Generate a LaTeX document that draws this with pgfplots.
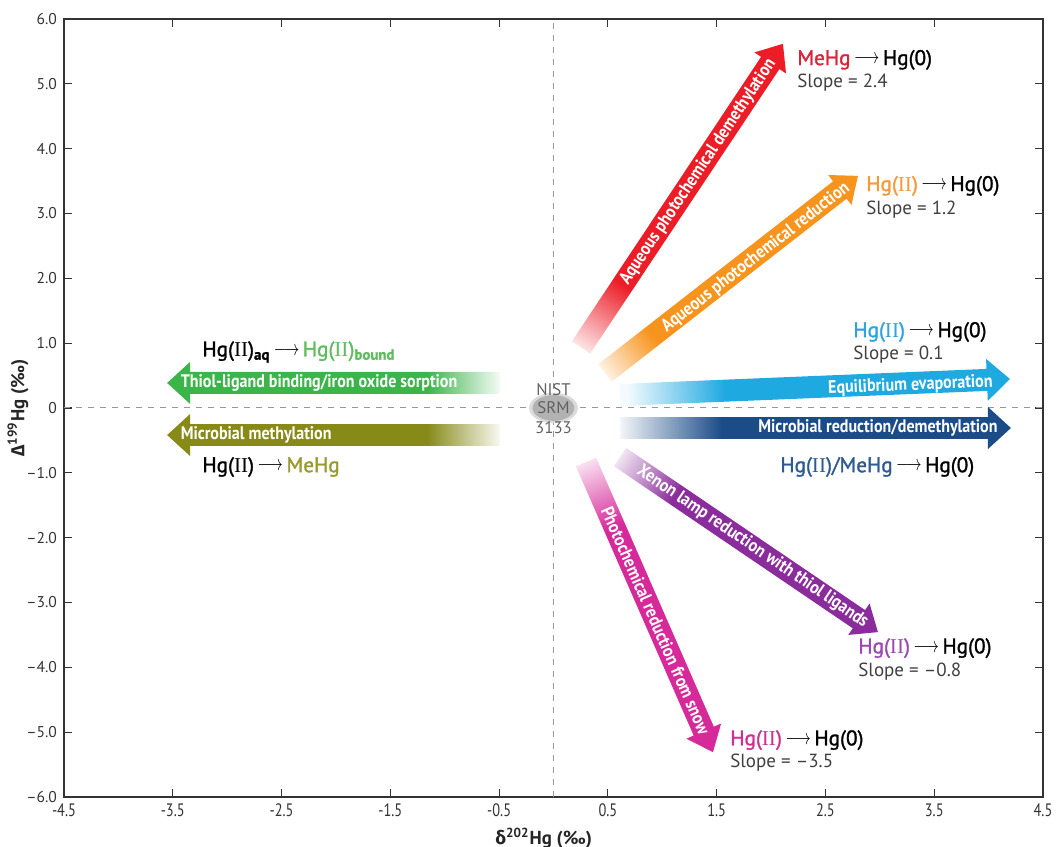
\documentclass[border=0pt]{standalone}
\usepackage{fontspec}
\setmainfont{PT Sans}
\newfontfamily\greekf{Fira Sans}
\newfontfamily\cond[FakeStretch=0.88]{PT Sans}
\newfontfamily\condx[FakeStretch=0.8]{PT Sans}
\newfontfamily\semib[FakeBold=1.4]{PT Sans}
\newfontfamily\serifII{Liberation Serif}
\usepackage{pgfplots}
\pgfplotsset{compat=1.18}

\definecolor{cRed}{HTML}{EC1D27}
\definecolor{cOrange}{HTML}{F7941D}
\definecolor{cBlue}{HTML}{1FA9E1}
\definecolor{cNavy}{HTML}{1C4C88}
\definecolor{cPurple}{HTML}{8A2C9B}
\definecolor{cMagenta}{HTML}{D6299A}
\definecolor{cGreen}{HTML}{3BB44A}
\definecolor{cOlive}{HTML}{878A17}
\definecolor{tRed}{HTML}{D9243A}
\definecolor{tOrange}{HTML}{F39A3A}
\definecolor{tBlue}{HTML}{2EA3DC}
\definecolor{tNavy}{HTML}{2D5B92}
\definecolor{tPurple}{HTML}{9A4BB0}
\definecolor{tMagenta}{HTML}{D02F8E}
\definecolor{tGreen}{HTML}{5CBD5C}
\definecolor{tOlive}{HTML}{979A2C}

\newcommand\mkfade[4]{%
  \colorlet{#1P}{#2!5!white}%
  \pgfdeclareverticalshading{#1}{100bp}{color(0bp)=(#1P); color(#3bp)=(#1P); color(#4bp)=(#2); color(100bp)=(#2)}}
\mkfade{fRed}{cRed}{16}{31}
\mkfade{fOrange}{cOrange}{16}{30}
\mkfade{fPurple}{cPurple}{16}{32}
\mkfade{fMagenta}{cMagenta}{17}{33}
\mkfade{fBlue}{cBlue}{25}{38}
\mkfade{fNavy}{cNavy}{25}{38}
\mkfade{fGreen}{cGreen}{25}{36}
\mkfade{fOlive}{cOlive}{25}{36}

\newcommand\HgII{Hg({\serifII II})}
\newcommand\rarr{\,\raisebox{0.12ex}{\scalebox{0.72}[1]{$\longrightarrow$}}\,}

\tikzset{
  hg/.style={anchor=west, inner sep=0pt, font=\semib\fontsize{10.6}{11}\selectfont},
  sl/.style={anchor=west, inner sep=0pt, font=\fontsize{9.5}{10}\selectfont, text=black!75},
  al/.style={text=white, inner sep=0pt, font=\cond\bfseries\fontsize{9.1}{10}\selectfont},
  nist/.style={inner sep=0pt, text=black!62, font=\fontsize{8.4}{9}\selectfont},
}

\begin{document}
\begin{tikzpicture}
\begin{axis}[name=ax, set layers, scale only axis, width=489.5pt, height=389pt,
  xmin=-4.5, xmax=4.5, ymin=-6, ymax=6,
  xtick={-4.5,-3.5,-2.5,-1.5,-0.5,0.5,1.5,2.5,3.5,4.5},
  xticklabels={-4.5,-3.5,-2.5,-1.5,-0.5,0.5,1.5,2.5,3.5,4.5},
  ytick={-6,-5,-4,-3,-2,-1,0,1,2,3,4,5,6},
  yticklabels={–6.0,–5.0,–4.0,–3.0,–2.0,–1.0,0,1.0,2.0,3.0,4.0,5.0,6.0},
  yticklabel style={font=\fontsize{7.8}{8}\selectfont, text=black!80},
  xticklabel style={font=\condx\fontsize{9}{9}\selectfont, text=black!80},
  axis line style={black!80, line width=0.8pt},
  major tick style={black!80, line width=0.6pt},
  major tick length=4pt,
  clip=false,
  xlabel={\textbf{{\greekf δ}\textsuperscript{202}Hg (‰)}},
  ylabel={\textbf{{\greekf Δ}\textsuperscript{199}Hg (‰)}},
  label style={font=\fontsize{9.4}{10}\selectfont, text=black!85},
  xlabel style={at={(axis description cs:0.49,-0.053)}, anchor=center},
  ylabel style={at={(axis description cs:-0.047,0.5)}, anchor=center},
]
% zero lines
\addplot[black!40, dash pattern=on 3pt off 3pt, line width=0.5pt] coordinates {(0,-6) (0,6)};
\addplot[black!40, dash pattern=on 3pt off 3pt, line width=0.5pt] coordinates {(-4.5,0) (4.5,0)};

% NIST SRM 3133 reference point
\addplot[black!14, only marks, mark=*, mark size=7.4pt, mark options={xscale=1.62, fill=black!14, draw=black!14}] coordinates {(0,0)};
\addplot[black!30, only marks, mark=*, mark size=6.2pt, mark options={xscale=1.65, fill=black!30, draw=black!30}] coordinates {(0,0)};

% arrows
\addplot[draw=none, shade, shading=fRed, shading angle=-33.65] coordinates {
 (0.3369,0.8395) (2.0765,5.2276) (2.1377,5.1593) (2.1094,5.6173) (1.8469,5.4843) (1.9081,5.4157) (0.1686,1.0276)} -- cycle;
\addplot[draw=none, shade, shading=fOrange, shading angle=-52.1] coordinates {
 (0.5355,0.4062) (2.6940,3.2282) (2.7392,3.1309) (2.7987,3.5802) (2.5246,3.5935) (2.5698,3.4961) (0.4112,0.6741)} -- cycle;
\addplot[draw=none, shade, shading=fBlue, shading angle=-87.65] coordinates {
 (0.6154,0.0310) (3.9887,0.2634) (3.9924,0.1093) (4.1958,0.4475) (3.9767,0.7568) (3.9804,0.6026) (0.6071,0.3702)} -- cycle;
\addplot[draw=none, shade, shading=fNavy, shading angle=-90] coordinates {
 (0.611,-0.139) (3.994,-0.139) (3.994,0.016) (4.205,-0.309) (3.994,-0.633) (3.994,-0.478) (0.611,-0.478)} -- cycle;
\addplot[draw=none, shade, shading=fPurple, shading angle=-124.15] coordinates {
 (0.5545,-0.8966) (2.7509,-3.3980) (2.7096,-3.5002) (2.9825,-3.4568) (2.9057,-3.0150) (2.8644,-3.1171) (0.6680,-0.6157)} -- cycle;
\addplot[draw=none, shade, shading=fMagenta, shading angle=-156.35] coordinates {
 (0.2061,-0.9014) (1.2885,-5.0515) (1.2212,-5.1011) (1.4660,-5.3086) (1.5411,-4.8659) (1.4738,-4.9154) (0.3914,-0.7653)} -- cycle;
\addplot[draw=none, shade, shading=fGreen, shading angle=90] coordinates {
 (-0.492,0.556) (-3.341,0.556) (-3.341,0.710) (-3.552,0.386) (-3.341,0.062) (-3.341,0.216) (-0.492,0.216)} -- cycle;
\addplot[draw=none, shade, shading=fOlive, shading angle=90] coordinates {
 (-0.492,-0.247) (-3.341,-0.247) (-3.341,-0.093) (-3.552,-0.417) (-3.341,-0.741) (-3.341,-0.586) (-0.492,-0.586)} -- cycle;

\begin{pgfonlayer}{axis foreground}
% arrow captions
\node[al, rotate=56.35] at (axis cs:1.33,3.64) {Aqueous photochemical demethylation};
\node[al, rotate=37.9] at (axis cs:1.86,2.32) {Aqueous photochemical reduction};
\node[al, rotate=2.35, anchor=east] at (axis cs:4.04,0.40) {Equilibrium evaporation};
\node[al, anchor=east] at (axis cs:4.086,-0.309) {Microbial reduction/demethylation};
\node[al, rotate=-34.15] at (axis cs:1.83,-2.14) {Xenon lamp reduction with thiol ligands};
\node[al, rotate=-66.35] at (axis cs:0.94,-3.28) {Photochemical reduction from snow};
\node[al, anchor=west] at (axis cs:-3.43,0.39) {Thiol-ligand binding/iron oxide sorption};
\node[al, anchor=west] at (axis cs:-3.43,-0.42) {Microbial methylation};

% NIST label
\node[nist] at (axis cs:0,0.28) {NIST};
\node[nist] at (axis cs:0,0) {SRM};
\node[nist] at (axis cs:0,-0.31) {3133};

% process labels
\node[hg] at (axis cs:2.238,5.37) {\textcolor{tRed}{MeHg}\rarr Hg(0)};
\node[sl] at (axis cs:2.238,5.015) {Slope = 2.4};
\node[hg] at (axis cs:2.872,3.426) {\textcolor{tOrange}{\HgII}\rarr Hg(0)};
\node[sl] at (axis cs:2.872,3.056) {Slope = 1.2};
\node[hg] at (axis cs:2.753,1.173) {\textcolor{tBlue}{\HgII}\rarr Hg(0)};
\node[sl] at (axis cs:2.753,0.818) {Slope = 0.1};
\node[hg] at (axis cs:2.082,-0.91) {\textcolor{tNavy}{\HgII/MeHg}\rarr Hg(0)};
\node[hg] at (axis cs:2.799,-3.704) {\textcolor{tPurple}{\HgII}\rarr Hg(0)};
\node[sl] at (axis cs:2.799,-4.059) {Slope = –0.8};
\node[hg] at (axis cs:1.622,-5.123) {\textcolor{tMagenta}{\HgII}\rarr Hg(0)};
\node[sl] at (axis cs:1.622,-5.463) {Slope = –3.5};
\node[hg] at (axis cs:-3.231,0.864) {\HgII\textsubscript{\bfseries aq}\rarr \textcolor{tGreen}{\HgII\textsubscript{\bfseries bound}}};
\node[hg] at (axis cs:-3.231,-0.91) {\HgII\rarr \textcolor{tOlive}{MeHg}};
\end{pgfonlayer}
\end{axis}
\pgfresetboundingbox
\path ([xshift=-32pt,yshift=-25pt]ax.south west) rectangle ([xshift=7pt,yshift=9.5pt]ax.north east);
\end{tikzpicture}
\end{document}
